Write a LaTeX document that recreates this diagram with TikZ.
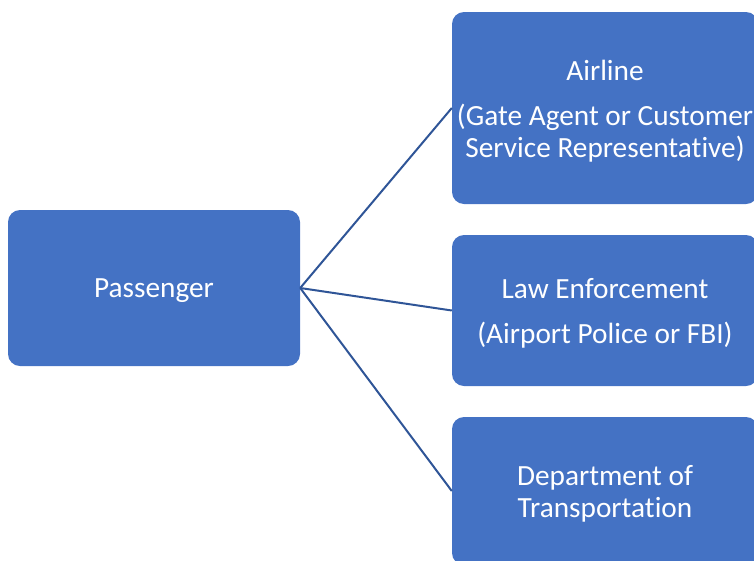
\documentclass[tikz,border=0pt]{standalone}
\usepackage{fontspec}
\setmainfont[Ligatures=NoCommon]{Carlito}
\begin{document}
\begin{tikzpicture}[x=1pt,y=-1pt,
  box/.style={draw=none,fill=boxblue,rounded corners=12pt,inner sep=0pt},
  lbl/.style={text=white,align=center,inner sep=0pt,yshift=-3pt,
    font=\fontsize{29.3}{32}\selectfont},
  link/.style={draw=lineblue,line width=2pt}]
\definecolor{boxblue}{HTML}{4472C4}
\definecolor{lineblue}{HTML}{2F5597}
\useasboundingbox (0,0) rectangle (754,560);
\clip (0,0) rectangle (754,560);
\node[box,minimum width=292pt,minimum height=156pt,
  label={[lbl]center:Passenger}] (pass) at (154,288) {};
\node[box,minimum width=306pt,minimum height=192pt,
  label={[lbl]center:{Airline\\[13pt](Gate Agent or Customer\\Service Representative)}}] (air) at (605,108) {};
\node[box,minimum width=306pt,minimum height=151pt,
  label={[lbl]center:{Law Enforcement\\[13pt](Airport Police or FBI)}}] (law) at (605,310.5) {};
\node[box,minimum width=306pt,minimum height=148pt,
  label={[lbl]center:{Department of\\Transportation}}] (dot) at (605,491) {};
\draw[link] (pass.east) -- (air.west);
\draw[link] (pass.east) -- (law.west);
\draw[link] (pass.east) -- (dot.west);
\end{tikzpicture}
\end{document}
